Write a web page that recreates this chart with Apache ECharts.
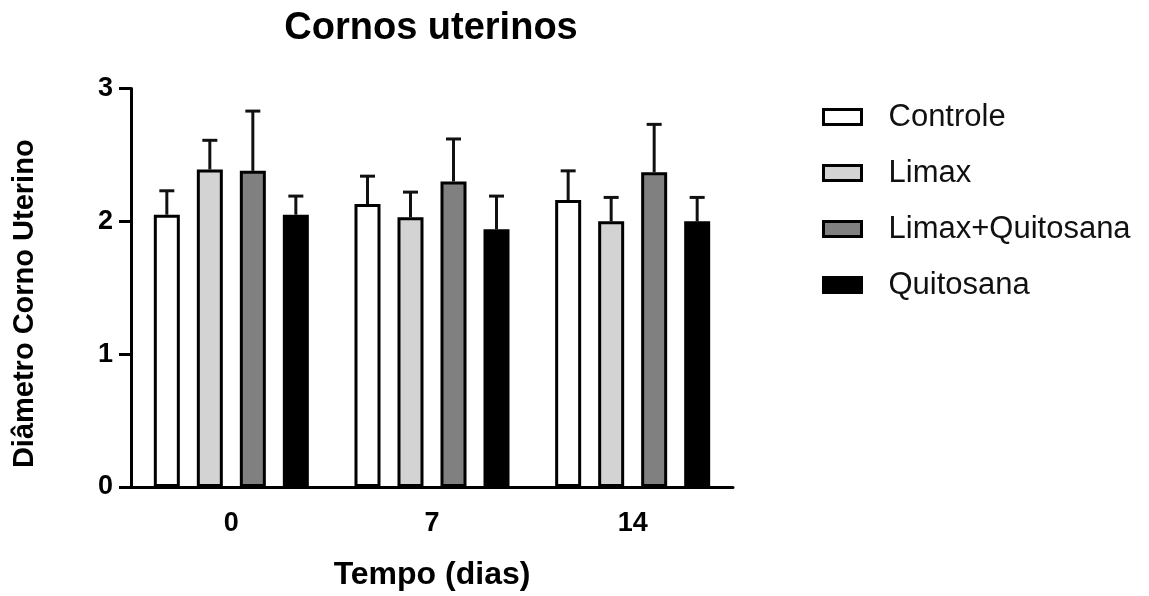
<!DOCTYPE html>
<html><head><meta charset="utf-8">
<script src="https://cdn.jsdelivr.net/npm/echarts@6/dist/echarts.min.js"></script>
<style>html,body{margin:0;padding:0;background:#fff}#c{width:1149px;height:596px}</style>
</head><body><div id="c"></div>
<script>
const categories = ['0', '7', '14'];
const seriesNames = ['Controle', 'Limax', 'Limax+Quitosana', 'Quitosana'];
const controle = [2.05, 2.13, 2.16];
const controleSD = [0.18, 0.21, 0.22];
const limax = [2.39, 2.03, 2.00];
const limaxSD = [0.22, 0.19, 0.18];
const limaxQuitosana = [2.38, 2.30, 2.37];
const limaxQuitosanaSD = [0.45, 0.32, 0.36];
const quitosana = [2.05, 1.94, 2.00];
const quitosanaSD = [0.14, 0.25, 0.18];
const yTicks = [0, 1, 2, 3];

const means = [controle, limax, limaxQuitosana, quitosana];
const sds = [controleSD, limaxSD, limaxQuitosanaSD, quitosanaSD];
const colors = ['#ffffff', '#d3d3d3', '#808080', '#000000'];
const FONT = "'Liberation Sans', Arial, sans-serif";
const BAR_W = 26, GAP = 0.654;
const step = BAR_W * (1 + GAP);

const series = [];
seriesNames.forEach((name, k) => {
  series.push({
    name: name, type: 'bar', data: means[k], barWidth: BAR_W, barGap: (GAP * 100) + '%',
    itemStyle: { color: colors[k], borderColor: '#000', borderWidth: 3 }, z: 3
  });
});
seriesNames.forEach((name, k) => {
  series.push({
    type: 'custom', z: 2,
    data: categories.map((c, i) => [i, means[k][i], sds[k][i]]),
    encode: { x: 0, y: 1 },
    renderItem: function (params, api) {
      const ci = api.value(0), m = api.value(1), sd = api.value(2);
      const p0 = api.coord([ci, m]);
      const p1 = api.coord([ci, m + sd]);
      const x = p0[0] + (k - 1.5) * step;
      return {
        type: 'group', children: [
          { type: 'line', shape: { x1: x, y1: p0[1], x2: x, y2: p1[1] }, style: { stroke: '#111', lineWidth: 3 } },
          { type: 'line', shape: { x1: x - 7.5, y1: p1[1], x2: x + 7.5, y2: p1[1] }, style: { stroke: '#111', lineWidth: 3 } }
        ]
      };
    }
  });
});

const chart = echarts.init(document.getElementById('c'));
chart.setOption({
  animation: false,
  backgroundColor: '#fff',
  title: {
    text: 'Cornos uterinos', left: 431, top: 10, textAlign: 'center', padding: 0,
    textStyle: { fontFamily: FONT, fontSize: 38, fontWeight: 'bold', color: '#000' }
  },
  grid: { left: 131, right: 416, top: 88.5, bottom: 108, containLabel: false },
  legend: {
    orient: 'vertical', left: 822, top: 101, padding: 0, itemWidth: 38, itemHeight: 15, itemGap: 24,
    icon: 'rect', data: seriesNames, selectedMode: false,
    itemStyle: { borderColor: '#000', borderWidth: 3 },
    textStyle: { fontFamily: FONT, fontSize: 31, color: '#111', padding: [0, 0, 0, 22], lineHeight: 32 }
  },
  xAxis: {
    type: 'category', data: categories,
    name: 'Tempo (dias)', nameLocation: 'middle', nameGap: 72,
    nameTextStyle: { fontFamily: FONT, fontSize: 32, fontWeight: 'bold', color: '#000' },
    axisLine: { lineStyle: { color: '#000', width: 3 } },
    axisTick: { alignWithLabel: true, length: 12, lineStyle: { color: '#000', width: 3 } },
    axisLabel: { fontFamily: FONT, fontSize: 27, fontWeight: 'bold', color: '#000', margin: 23 },
    splitLine: { show: false }
  },
  yAxis: {
    type: 'value', min: yTicks[0], max: yTicks[yTicks.length - 1], interval: yTicks[1] - yTicks[0],
    name: 'Diâmetro Corno Uterino', nameLocation: 'middle', nameGap: 92, nameRotate: 90,
    nameTextStyle: { fontFamily: FONT, fontSize: 29, fontWeight: 'bold', color: '#000', padding: [0, 32, 0, 0] },
    axisLine: { show: true, lineStyle: { color: '#000', width: 3 } },
    axisTick: { show: true, length: 12, lineStyle: { color: '#000', width: 3 } },
    axisLabel: { fontFamily: FONT, fontSize: 27, fontWeight: 'bold', color: '#000', margin: 18 },
    splitLine: { show: false }
  },
  series: series
});
</script></body></html>
